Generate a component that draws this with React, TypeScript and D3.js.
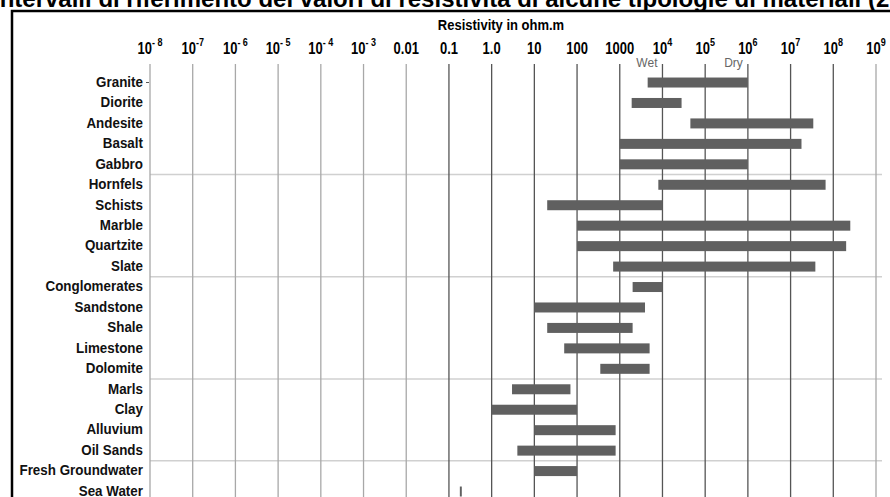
import React from "react";
import * as d3 from "d3";

// resistivity ranges in ohm.m
const materials = [
  "Granite", "Diorite", "Andesite", "Basalt", "Gabbro",
  "Hornfels", "Schists", "Marble", "Quartzite", "Slate",
  "Conglomerates", "Sandstone", "Shale", "Limestone", "Dolomite",
  "Marls", "Clay", "Alluvium", "Oil Sands", "Fresh Groundwater", "Sea Water",
];
const lowValues = [
  4500, 1900, 45000, 1000, 1000,
  8000, 20, 100, 100, 700,
  2000, 10, 20, 50, 350,
  3, 1, 10, 4, 10, 0.18,
];
const highValues = [
  1e6, 28000, 3.4e7, 1.8e7, 1e6,
  6.6e7, 1e4, 2.5e8, 2e8, 3.8e7,
  1e4, 3900, 2000, 5000, 5000,
  70, 100, 800, 800, 100, 0.2,
];
// last material of each group gets a separator under it
const groupEnds = ["Gabbro", "Slate", "Dolomite", "Oil Sands"];

const tickValues = [1e-8, 1e-7, 1e-6, 1e-5, 1e-4, 1e-3, 0.01, 0.1, 1, 10, 100, 1000, 1e4, 1e5, 1e6, 1e7, 1e8, 1e9];
const tickBases = ["10", "10", "10", "10", "10", "10", "0.01", "0.1", "1.0", "10", "100", "1000", "10", "10", "10", "10", "10", "10"];
const tickExponents = ["- 8", "-7", "- 6", "- 5", "- 4", "- 3", "", "", "", "", "", "", "4", "5", "6", "7", "8", "9"];

const notes = ["Wet", "Dry"];
const noteValues = [1e4, 1e6];

const WIDTH = 890;
const HEIGHT = 497;
const FONT = "Arial, 'Liberation Sans', sans-serif";

export default function App() {
  const x = d3.scaleLog().domain([1e-8, 1e9]).range([150, 876]);
  const y = d3
    .scaleBand<string>()
    .domain(materials)
    .range([72.3, 72.3 + 20.45 * materials.length])
    .padding(0);
  const barH = 10;

  return (
    <svg
      width={WIDTH}
      height={HEIGHT}
      style={{ position: "absolute", left: 0, top: 0, background: "#fff" }}
      fontFamily={FONT}
    >
      {/* cut-off title */}
      <text x={-7} y={7} fontSize={24} fontWeight="bold" fill="#000">
        Intervalli di riferimento dei valori di resistività di alcune tipologie di materiali (2022)
      </text>

      <rect x={12} y={11} width={WIDTH + 20} height={HEIGHT} fill="none" stroke="#000" strokeWidth={2.5} />

      <text transform="translate(501,30) scale(1,1.15)" textAnchor="middle" fontSize={13} fontWeight="bold">
        Resistivity in ohm.m
      </text>

      {/* group separators */}
      {groupEnds.map((m) => (
        <line
          key={m}
          x1={150}
          x2={882}
          y1={(y(m) as number) + y.bandwidth()}
          y2={(y(m) as number) + y.bandwidth()}
          stroke="#d0d0d0"
          strokeWidth={1.5}
        />
      ))}

      {/* vertical grid + tick labels */}
      {tickValues.map((v, i) => {
        const px = x(v);
        const light = v < 0.1 || v > 1e8;
        return (
          <g key={i}>
            <line
              x1={px}
              x2={px}
              y1={64}
              y2={HEIGHT}
              stroke={light ? "#a8a8a8" : "#555"}
              strokeWidth={1.3}
            />
            <text
              transform={`translate(${px},54) scale(1,1.2)`}
              textAnchor="middle"
              fontSize={13}
              fontWeight="bold"
            >
              {tickBases[i]}
              {tickExponents[i] && (
                <tspan dy={-7} fontSize={9}>
                  {tickExponents[i]}
                </tspan>
              )}
            </text>
          </g>
        );
      })}

      {/* wet / dry notes */}
      {notes.map((n, i) => (
        <text key={n} x={x(noteValues[i]) - 5} y={67} textAnchor="end" fontSize={12} fill="#666">
          {n}
        </text>
      ))}

      {/* bars */}
      {materials.map((m, i) => {
        const cy = (y(m) as number) + y.bandwidth() / 2;
        return (
          <g key={m}>
            <text
              transform={`translate(143,${cy + 4.3}) scale(1,1.12)`}
              textAnchor="end"
              fontSize={13.4}
              fontWeight="bold"
              fill="#111"
            >
              {m}
            </text>
            <rect
              x={x(lowValues[i])}
              y={cy - barH / 2}
              width={Math.max(1.5, x(highValues[i]) - x(lowValues[i]))}
              height={barH}
              fill="#606060"
            />
          </g>
        );
      })}
      <line x1={146} x2={149} y1={82.5} y2={82.5} stroke="#555" strokeWidth={1} />
    </svg>
  );
}
